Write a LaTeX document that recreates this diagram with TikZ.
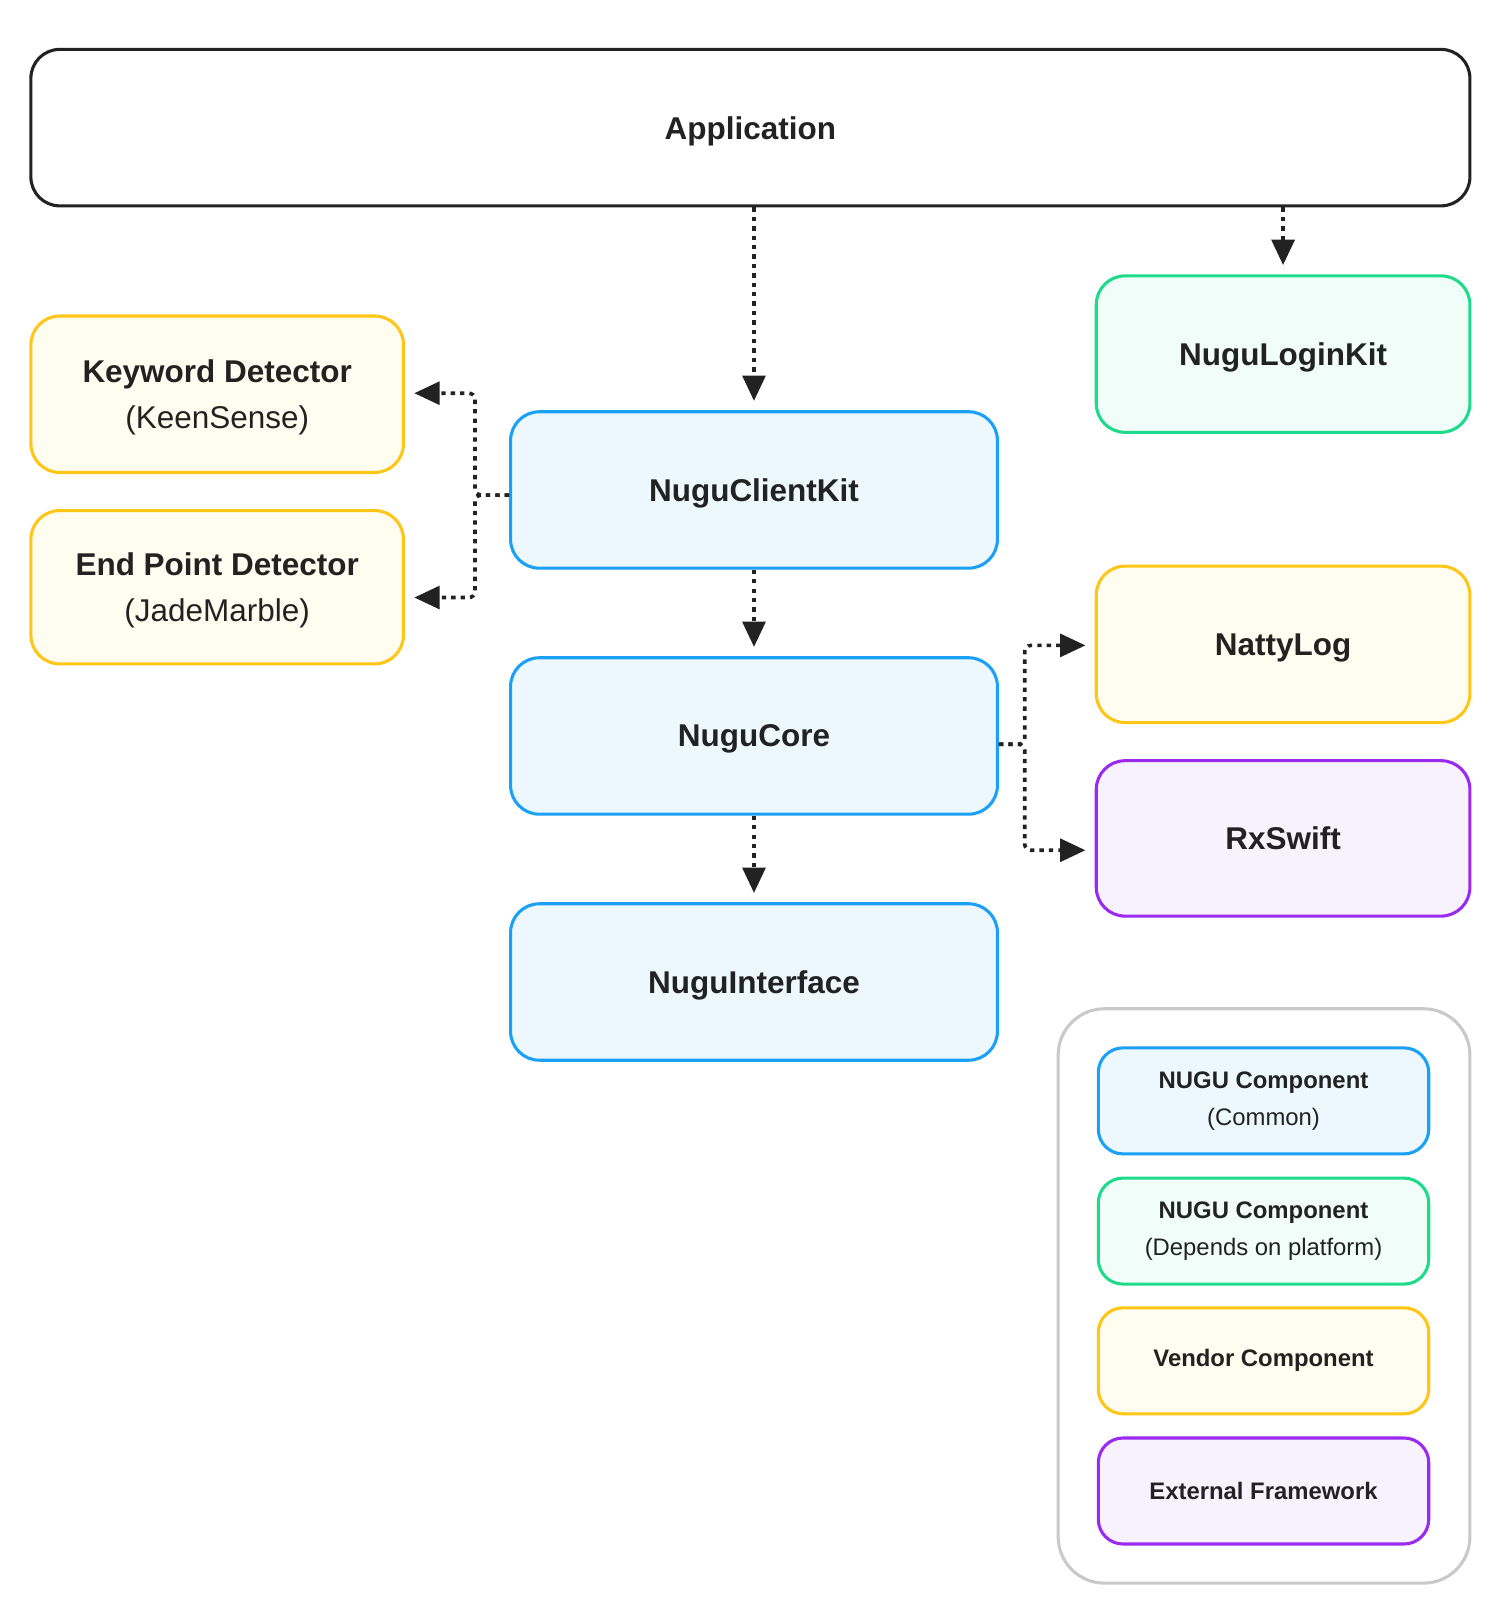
\documentclass[tikz,border=0pt]{standalone}
\usepackage{fontspec}
\setmainfont{Liberation Sans}
\usetikzlibrary{arrows.meta}
\definecolor{ink}{HTML}{222222}
\definecolor{nuguBlue}{HTML}{1AA0F5}
\definecolor{nuguBlueBg}{HTML}{EDF7FE}
\definecolor{nuguGreen}{HTML}{1EDB8C}
\definecolor{nuguGreenBg}{HTML}{F0FDF8}
\definecolor{vendorYellow}{HTML}{FFC517}
\definecolor{vendorYellowBg}{HTML}{FFFCF0}
\definecolor{extPurple}{HTML}{9B2AF0}
\definecolor{extPurpleBg}{HTML}{F7F2FE}
\definecolor{keyGray}{HTML}{C9C9C9}

\begin{document}
\begin{tikzpicture}[>={Triangle[length=7pt,width=6.3pt]},
  box/.style={rectangle, rounded corners=0.28cm, line width=0.85pt, align=center, text=ink,
    font=\fontsize{8.7}{12.8}\selectfont, minimum height=1.52cm, text depth=0pt},
  common/.style={box, draw=nuguBlue, fill=nuguBlueBg, minimum width=4.73cm},
  platform/.style={box, draw=nuguGreen, fill=nuguGreenBg, minimum width=3.63cm},
  vendor/.style={box, draw=vendorYellow, fill=vendorYellowBg, minimum width=3.62cm},
  external/.style={box, draw=extPurple, fill=extPurpleBg, minimum width=3.63cm},
  key/.style={rectangle, rounded corners=0.24cm, line width=0.85pt, align=center, text=ink,
    font=\fontsize{6.6}{10.2}\selectfont, minimum width=3.21cm, minimum height=1.03cm},
  dep/.style={->, ink, line width=1pt, dash pattern=on 1.2pt off 1.4pt, rounded corners=0.06cm, shorten >=0.09cm}]
\useasboundingbox (0,0) rectangle (14.57,-15.68);

\node[box, draw=ink, fill=white, minimum width=13.98cm] (1) at (7.29,-1.24) {\textbf{Application}};
\node[platform] (2) at (12.465,-3.44) {\textbf{NuguLoginKit}};
\node[vendor] (3) at (2.11,-3.83) {\textbf{Keyword Detector}\\(KeenSense)};
\node[vendor, minimum height=1.49cm] (4) at (2.11,-5.705) {\textbf{End Point Detector}\\(JadeMarble)};
\node[common] (5) at (7.325,-4.76) {\textbf{NuguClientKit}};
\node[common] (6) at (7.325,-7.15) {\textbf{NuguCore}};
\node[common] (7) at (7.325,-9.54) {\textbf{NuguInterface}};
\node[vendor, minimum width=3.63cm] (8) at (12.465,-6.26) {\textbf{NattyLog}};
\node[external, minimum height=1.51cm] (9) at (12.465,-8.145) {\textbf{RxSwift}};

% legend
\node[rectangle, rounded corners=0.45cm, draw=keyGray, line width=0.85pt, minimum width=4cm, minimum height=5.58cm] (10) at (12.28,-12.59) {};
\node[key, draw=nuguBlue, fill=nuguBlueBg] (11) at (12.275,-10.695) {\textbf{NUGU Component}\\(Common)};
\node[key, draw=nuguGreen, fill=nuguGreenBg] (12) at (12.275,-11.96) {\textbf{NUGU Component}\\(Depends on platform)};
\node[key, draw=vendorYellow, fill=vendorYellowBg] (13) at (12.275,-13.22) {\textbf{Vendor Component}};
\node[key, draw=extPurple, fill=extPurpleBg] (14) at (12.275,-14.485) {\textbf{External Framework}};

\draw[dep] (5.north |- 1.south) -- (5.north);
\draw[dep] (2.north |- 1.south) -- (2.north);
\draw[dep] (5.south) -- (6.north);
\draw[dep] (6.south) -- (7.north);
\draw[dep] ([yshift=-0.05cm]5.west) -- ++(-0.33,0) |- ([yshift=0.01cm]3.east);
\draw[dep] ([yshift=-0.05cm]5.west) -- ++(-0.33,0) |- ([yshift=-0.10cm]4.east);
\draw[dep] ([yshift=-0.08cm]6.east) -- ++(0.25,0) |- ([yshift=-0.01cm]8.west);
\draw[dep] ([yshift=-0.08cm]6.east) -- ++(0.25,0) |- ([yshift=-0.115cm]9.west);
\end{tikzpicture}
\end{document}
